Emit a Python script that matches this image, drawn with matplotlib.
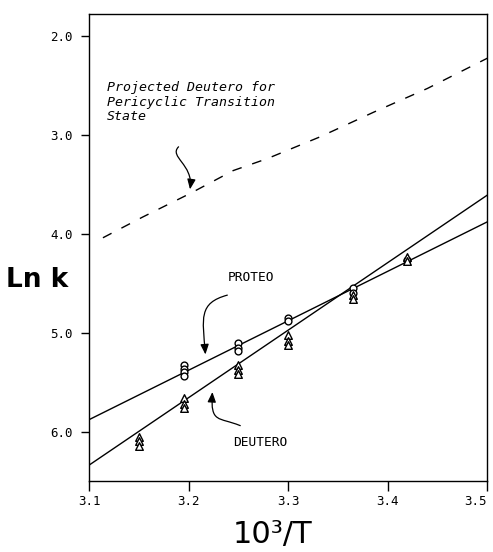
import matplotlib
matplotlib.use('Agg')
import matplotlib.pyplot as plt
import numpy as np
from matplotlib.path import Path
from matplotlib.patches import FancyArrowPatch

# fitted lines (read at the axis edges)
line_x = [3.1, 3.5]
proteo_line = [5.88, 3.88]
deutero_line = [6.34, 3.61]

# projected deutero curve (dashed)
proj_x = [3.114, 3.154, 3.202, 3.245, 3.279, 3.332, 3.386, 3.440, 3.503]
proj_y = [4.04, 3.83, 3.59, 3.36, 3.24, 3.02, 2.77, 2.53, 2.21]

# experimental points
proteo_x = [3.195, 3.195, 3.195, 3.195, 3.25, 3.25, 3.25, 3.30, 3.30, 3.365, 3.365, 3.42]
proteo_y = [5.33, 5.37, 5.40, 5.44, 5.10, 5.15, 5.19, 4.85, 4.88, 4.55, 4.60, 4.26]
deutero_x = [3.15, 3.15, 3.15, 3.195, 3.195, 3.195, 3.25, 3.25, 3.25, 3.30, 3.30, 3.30,
             3.365, 3.365, 3.42, 3.42]
deutero_y = [6.05, 6.10, 6.15, 5.66, 5.72, 5.76, 5.33, 5.38, 5.42, 5.02, 5.08, 5.12,
             4.62, 4.66, 4.23, 4.27]

xticks = [3.1, 3.2, 3.3, 3.4, 3.5]
yticks = [2.0, 3.0, 4.0, 5.0, 6.0]
mono = 'DejaVu Sans Mono'


def curly(ax, verts):
    codes = [Path.MOVETO] + [Path.CURVE4] * (len(verts) - 1)
    arr = FancyArrowPatch(path=Path(verts, codes), arrowstyle='-|>,head_length=6,head_width=2.5',
                          color='black', lw=0.9, mutation_scale=1)
    ax.add_patch(arr)


def main():
    fig = plt.figure(figsize=(4.93, 5.52), dpi=100)
    ax = fig.add_axes([0.1805, 0.1286, 0.8075, 0.846])

    ax.plot(line_x, proteo_line, color='black', lw=1)
    ax.plot(line_x, deutero_line, color='black', lw=1)
    ax.plot(proj_x, proj_y, color='black', lw=1, dashes=(7, 8))

    ax.scatter(proteo_x, proteo_y, marker='o', s=24, facecolors='white',
               edgecolors='black', linewidths=1, zorder=3)
    ax.scatter(deutero_x, deutero_y, marker='^', s=30, facecolors='white',
               edgecolors='black', linewidths=1, zorder=3)

    ax.set_xlim(3.1, 3.5)
    ax.set_ylim(6.5, 1.777)
    ax.set_xticks(xticks)
    xl = ax.set_xticklabels(['3.1', '3.2', '3.3', '3.4', '3.5'], family=mono, fontsize=9)
    xl[-1].set_ha('right')
    ax.set_yticks(yticks)
    ax.set_yticklabels(['2.0', '3.0', '4.0', '5.0', '6.0'], family=mono, fontsize=9)
    ax.tick_params(axis='x', direction='out', length=7, width=1, pad=3)
    ax.tick_params(axis='y', direction='out', length=5.5, width=1, pad=6)
    for s in ax.spines.values():
        s.set_linewidth(1)

    ax.text(3.118, 2.67, 'Projected Deutero for\nPericyclic Transition\nState',
            family=mono, style='italic', fontsize=9.5, va='center', ha='left',
            linespacing=1.15)
    ax.text(3.239, 4.44, 'PROTEO', family=mono, fontsize=9.3, va='center')
    ax.text(3.245, 6.11, 'DEUTERO', family=mono, fontsize=9.3, va='center')

    curly(ax, [(3.19, 3.12), (3.18, 3.22), (3.205, 3.30), (3.2015, 3.55)])
    curly(ax, [(3.239, 4.62), (3.21, 4.70), (3.214, 4.85), (3.217, 5.22)])
    curly(ax, [(3.252, 5.94), (3.23, 5.85), (3.222, 5.92), (3.224, 5.60)])

    fig.text(0.075, 0.493, 'Ln k', fontsize=19, fontweight='bold', ha='center', va='center')
    fig.text(0.552, 0.031, '10³/T', fontsize=22, ha='center', va='center')

    fig.savefig('out.png', dpi=100)


if __name__ == '__main__':
    main()
